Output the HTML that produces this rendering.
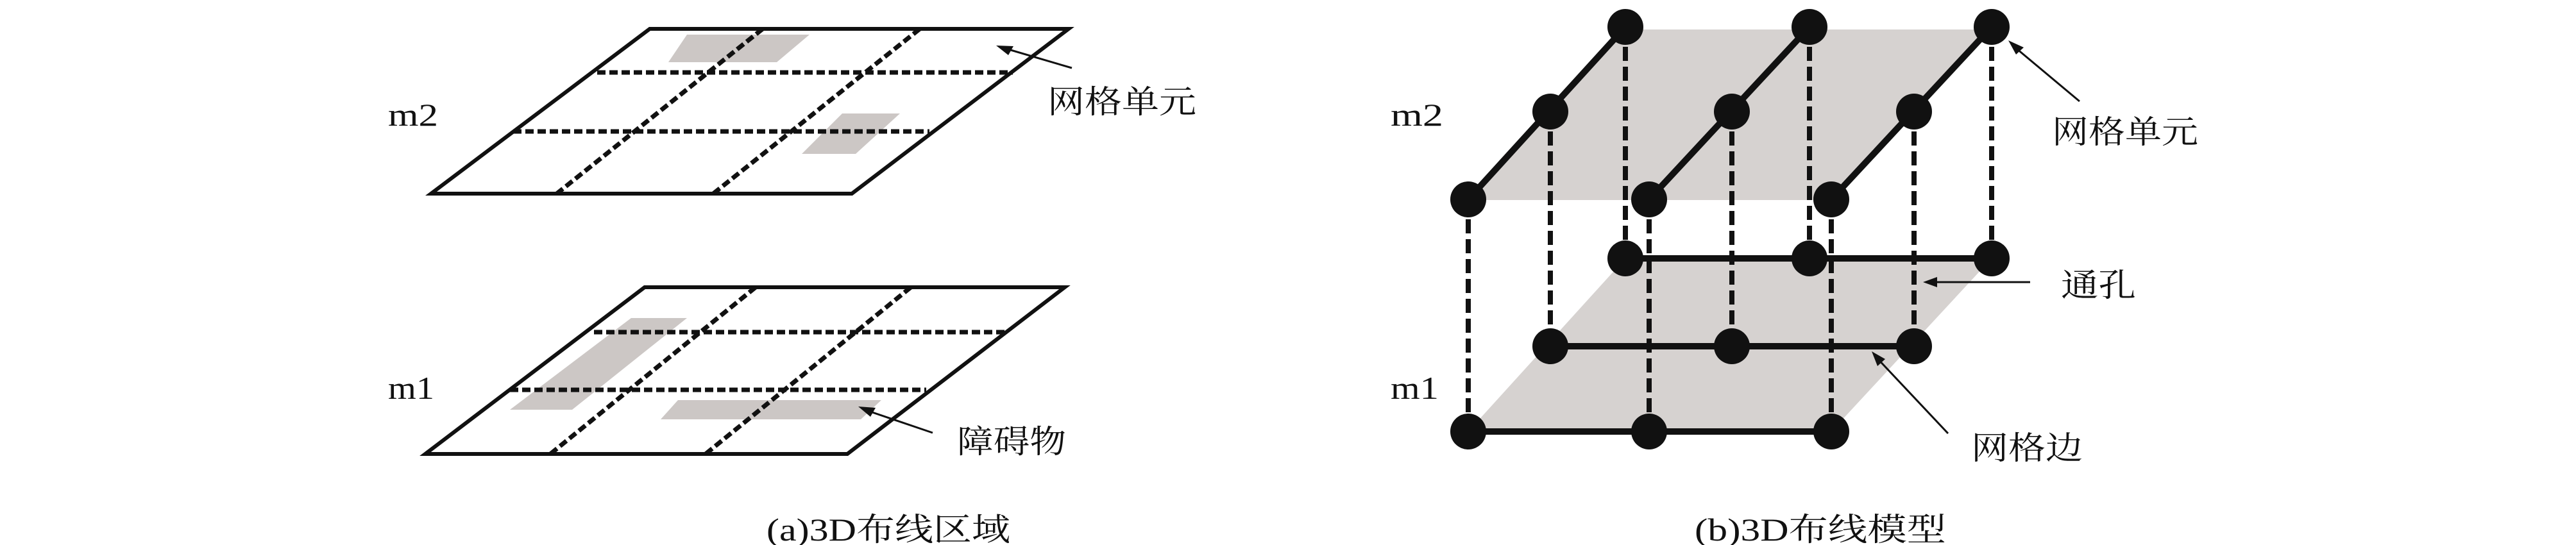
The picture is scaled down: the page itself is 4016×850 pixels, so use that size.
<!DOCTYPE html>
<html><head><meta charset="utf-8"><style>
html,body{margin:0;padding:0;background:#fff;}
svg{display:block;}
text{font-family:"Liberation Serif","Noto Serif CJK SC","Noto Sans CJK SC",serif;font-size:50px;fill:#111;}
</style></head><body>
<svg width="4016" height="850" viewBox="0 0 4016 850" xmlns="http://www.w3.org/2000/svg">
<!-- Panel a, m2 -->
<polygon points="1071,54 1262,54 1211,97 1042,97" fill="#ccc7c5"/>
<polygon points="1313,177 1403,177 1334,240 1250,240" fill="#ccc7c5"/>
<g stroke="#111" stroke-width="7" stroke-dasharray="13,6" fill="none">
<line x1="931" y1="113" x2="1579" y2="113"/>
<line x1="800" y1="205" x2="1449" y2="205"/>
<line x1="1189" y1="45" x2="868" y2="302"/>
<line x1="1434" y1="45" x2="1112" y2="302"/>
</g>
<polygon points="1013,45 1666,45 1328,302 672,302" fill="none" stroke="#111" stroke-width="6"/>
<line x1="1671" y1="106" x2="1562" y2="74" stroke="#111" stroke-width="3"/>
<polygon points="1553,71 1580,72 1572,86" fill="#111"/>
<text x="1633" y="176" textLength="232" lengthAdjust="spacingAndGlyphs">网格单元</text>
<text x="605" y="196" textLength="78" lengthAdjust="spacingAndGlyphs">m2</text>

<!-- Panel a, m1 -->
<polygon points="984,496 1071,496 892,639 795,639" fill="#ccc7c5"/>
<polygon points="1057,624 1374,624 1342,654 1030,654" fill="#ccc7c5"/>
<g stroke="#111" stroke-width="7" stroke-dasharray="13,6" fill="none">
<line x1="926" y1="518" x2="1570" y2="518"/>
<line x1="795" y1="608" x2="1444" y2="608"/>
<line x1="1178" y1="448" x2="858" y2="708"/>
<line x1="1420" y1="448" x2="1100" y2="708"/>
</g>
<polygon points="1005,448 1660,448 1321,708 663,708" fill="none" stroke="#111" stroke-width="6"/>
<line x1="1454" y1="675" x2="1348" y2="639" stroke="#111" stroke-width="3"/>
<polygon points="1338,634 1365,636 1357,650" fill="#111"/>
<text x="1492" y="706" textLength="170" lengthAdjust="spacingAndGlyphs">障碍物</text>
<text x="605" y="622" textLength="72" lengthAdjust="spacingAndGlyphs">m1</text>
<text x="1195" y="843" textLength="380" lengthAdjust="spacingAndGlyphs">(a)3D布线区域</text>

<!-- Panel b -->
<polygon points="2534,46 3105,46 2855,312 2289,312" fill="#d6d2d0"/>
<polygon points="2534,403 3105,403 2855,673 2289,673" fill="#d6d2d0"/>
<g stroke="#111" stroke-width="8" stroke-dasharray="22,9">
<line x1="2534" y1="42" x2="2534" y2="403"/>
<line x1="2821" y1="42" x2="2821" y2="403"/>
<line x1="3105" y1="42" x2="3105" y2="403"/>
<line x1="2417" y1="174" x2="2417" y2="540"/>
<line x1="2700" y1="174" x2="2700" y2="540"/>
<line x1="2984" y1="174" x2="2984" y2="540"/>
<line x1="2289" y1="311" x2="2289" y2="673"/>
<line x1="2571" y1="311" x2="2571" y2="673"/>
<line x1="2855" y1="311" x2="2855" y2="673"/>
</g>
<g stroke="#111" stroke-width="10">
<line x1="2289" y1="311" x2="2534" y2="42"/>
<line x1="2571" y1="311" x2="2821" y2="42"/>
<line x1="2855" y1="311" x2="3105" y2="42"/>
<line x1="2534" y1="403" x2="3105" y2="403"/>
<line x1="2417" y1="540" x2="2984" y2="540"/>
<line x1="2289" y1="673" x2="2855" y2="673"/>
</g>
<g fill="#111">
<ellipse cx="2534" cy="42" rx="28" ry="28"/><ellipse cx="2821" cy="42" rx="28" ry="28"/><ellipse cx="3105" cy="42" rx="28" ry="28"/>
<ellipse cx="2417" cy="174" rx="28" ry="28"/><ellipse cx="2700" cy="174" rx="28" ry="28"/><ellipse cx="2984" cy="174" rx="28" ry="28"/>
<ellipse cx="2289" cy="311" rx="28" ry="28"/><ellipse cx="2571" cy="311" rx="28" ry="28"/><ellipse cx="2855" cy="311" rx="28" ry="28"/>
<ellipse cx="2534" cy="403" rx="28" ry="28"/><ellipse cx="2821" cy="403" rx="28" ry="28"/><ellipse cx="3105" cy="403" rx="28" ry="28"/>
<ellipse cx="2417" cy="540" rx="28" ry="28"/><ellipse cx="2700" cy="540" rx="28" ry="28"/><ellipse cx="2984" cy="540" rx="28" ry="28"/>
<ellipse cx="2289" cy="673" rx="28" ry="28"/><ellipse cx="2571" cy="673" rx="28" ry="28"/><ellipse cx="2855" cy="673" rx="28" ry="28"/>
</g>
<line x1="3242" y1="158" x2="3138" y2="71" stroke="#111" stroke-width="3"/>
<polygon points="3131,63 3155,74 3143,85" fill="#111"/>
<line x1="3165" y1="440" x2="3010" y2="440" stroke="#111" stroke-width="3"/>
<polygon points="2998,440 3020,432 3020,448" fill="#111"/>
<line x1="3037" y1="676" x2="2924" y2="556" stroke="#111" stroke-width="3"/>
<polygon points="2918,548 2939,560 2927,571" fill="#111"/>
<text x="3199" y="223" textLength="228" lengthAdjust="spacingAndGlyphs">网格单元</text>
<text x="3213" y="462" textLength="117" lengthAdjust="spacingAndGlyphs">通孔</text>
<text x="3073" y="716" textLength="174" lengthAdjust="spacingAndGlyphs">网格边</text>
<text x="2168" y="196" textLength="82" lengthAdjust="spacingAndGlyphs">m2</text>
<text x="2168" y="622" textLength="75" lengthAdjust="spacingAndGlyphs">m1</text>
<text x="2642" y="843" textLength="392" lengthAdjust="spacingAndGlyphs">(b)3D布线模型</text>
</svg>
</body></html>
